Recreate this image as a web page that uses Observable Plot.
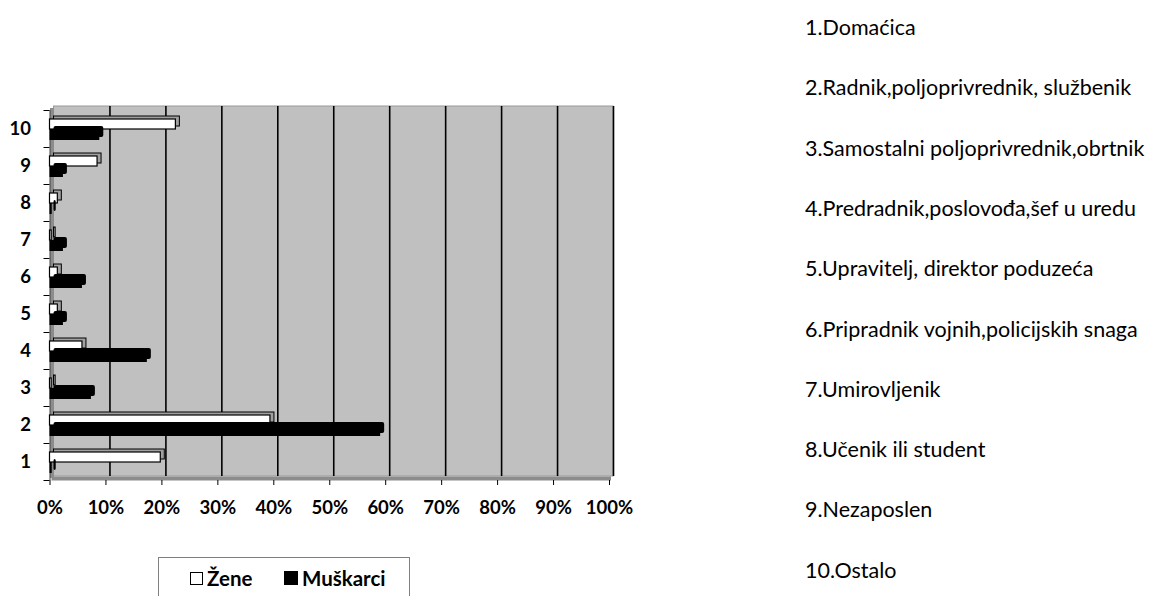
<!DOCTYPE html>
<html>
<head>
<meta charset="utf-8">
<script src="https://cdn.jsdelivr.net/npm/d3@7"></script>
<script src="https://cdn.jsdelivr.net/npm/@observablehq/plot@0.6"></script>
<style>
  html, body { margin: 0; padding: 0; background: #fff; overflow: hidden; }
  #wrap { position: relative; width: 1171px; height: 596px; font-family: Lato, "Open Sans", sans-serif; }
  #chart { position: absolute; left: 0; top: 0; }
  #list { position: absolute; left: 805px; top: 0; font-size: 21.5px; color: #000; }
  #list div { position: absolute; left: 0; white-space: nowrap; line-height: 26px; }
  #legend { position: absolute; left: 158px; top: 557px; width: 252px; height: 50px; border: 1px solid #808080; box-sizing: border-box;
            font-weight: bold; font-size: 20.5px; }
  #legend .item { position: absolute; top: 7px; display: flex; align-items: center; line-height: 26px; }
  #legend .sw { border: 1px solid #000; box-sizing: border-box; margin-right: 4px; }
</style>
</head>
<body>
<div id="wrap">
  <div id="chart"></div>
  <div id="list"></div>
  <div id="legend"></div>
</div>
<script>
const categories = [1, 2, 3, 4, 5, 6, 7, 8, 9, 10];
const zene     = [19.8, 39.4, 0.3, 5.8, 1.4, 1.4, 0.3, 1.4, 8.5, 22.5];
const muskarci = [0.4, 59.1, 7.4, 17.4, 2.4, 5.8, 2.4, 0.4, 2.4, 8.9];
const xTicks = [0, 10, 20, 30, 40, 50, 60, 70, 80, 90, 100];
const seriesNames = ["Žene", "Muškarci"];
const listLabels = [
  "1.Domaćica",
  "2.Radnik,poljoprivrednik, službenik",
  "3.Samostalni poljoprivrednik,obrtnik",
  "4.Predradnik,poslovođa,šef u uredu",
  "5.Upravitelj, direktor poduzeća",
  "6.Pripradnik vojnih,policijskih snaga",
  "7.Umirovljenik",
  "8.Učenik ili student",
  "9.Nezaposlen",
  "10.Ostalo"
];

const women = categories.map((c, i) => ({cat: c, v: zene[i]}));
const men = categories.map((c, i) => ({cat: c, v: muskarci[i]}));
const edges = [categories[0] - 0.5, ...categories.map(c => c + 0.5)];

const font = "Lato, 'Open Sans', sans-serif";

const plot = Plot.plot({
  width: 640,
  height: 596,
  marginLeft: 49.5,
  marginRight: 31,
  marginTop: 110,
  marginBottom: 116,
  style: {fontFamily: font, background: "transparent"},
  x: {domain: [0, 100]},
  y: {domain: [edges[0], edges[edges.length - 1]]},
  marks: [
    // back wall
    Plot.rect([{}], {x1: 0, x2: 100, y1: edges[0], y2: edges[edges.length - 1], dx: 4, dy: -4, fill: "#c0c0c0", stroke: "#9a9a9a"}),
    // gridlines on back wall
    Plot.ruleX(xTicks.slice(1), {dx: 4, dy: -4, stroke: "#000", strokeWidth: 1.6}),
    // floor & left wall
    Plot.ruleY([edges[0]], {x1: 0, x2: 100, dx: 2, dy: -2, stroke: "#8c8c8c", strokeWidth: 4}),
    Plot.ruleX([0], {dx: 2, dy: -2, stroke: "#8c8c8c", strokeWidth: 4}),
    Plot.ruleX([0], {stroke: "#404040", strokeWidth: 1}),
    // women bars: depth then face
    Plot.rectX(women, {x1: 0, x2: "v", y1: d => d.cat - 0.5, y2: d => d.cat + 0.5, insetTop: 9, insetBottom: 18, dx: 4, dy: -3, fill: "#a0a0a0", stroke: "#000", strokeWidth: 1}),
    Plot.rectX(women, {x1: 0, x2: "v", y1: d => d.cat - 0.5, y2: d => d.cat + 0.5, insetTop: 9, insetBottom: 18, fill: "#fff", stroke: "#000", strokeWidth: 1.2}),
    // men bars
    Plot.rectX(men, {x1: 0, x2: "v", y1: d => d.cat - 0.5, y2: d => d.cat + 0.5, insetTop: 19, insetBottom: 7, dx: 4, dy: -3, fill: "#000", rx: 2}),
    Plot.rectX(men, {x1: 0, x2: "v", y1: d => d.cat - 0.5, y2: d => d.cat + 0.5, insetTop: 19, insetBottom: 7, fill: "#000"}),
    // axes
    Plot.axisY({ticks: categories, tickSize: 0, tickPadding: 19, fontSize: 18.5, fontWeight: "bold", label: null, tickFormat: d => String(d)}),
    Plot.axisY({ticks: edges, tickSize: 6, tickFormat: () => "", label: null, stroke: "#000"}),
    Plot.axisX({ticks: xTicks, tickSize: 5, tickPadding: 15, fontSize: 18.5, fontWeight: "bold", label: null, tickFormat: d => d + "%"})
  ]
});
document.getElementById("chart").appendChild(plot);

// right-side list
const list = document.getElementById("list");
const y0 = 27, step = 60.3;
listLabels.forEach((t, i) => {
  const el = document.createElement("div");
  el.textContent = t;
  el.style.top = (y0 + i * step - 13) + "px";
  list.appendChild(el);
});

// legend
const legend = document.getElementById("legend");
const swatchFill = ["#fff", "#000"];
const swatchSize = [13, 14];
const lefts = [31, 125];
seriesNames.forEach((n, i) => {
  const it = document.createElement("div");
  it.className = "item";
  it.style.left = lefts[i] + "px";
  const sw = document.createElement("span");
  sw.className = "sw";
  sw.style.background = swatchFill[i];
  sw.style.width = swatchSize[i] + "px";
  sw.style.height = swatchSize[i] + "px";
  it.appendChild(sw);
  const tx = document.createElement("span");
  tx.textContent = n;
  it.appendChild(tx);
  legend.appendChild(it);
});
</script>
</body>
</html>
